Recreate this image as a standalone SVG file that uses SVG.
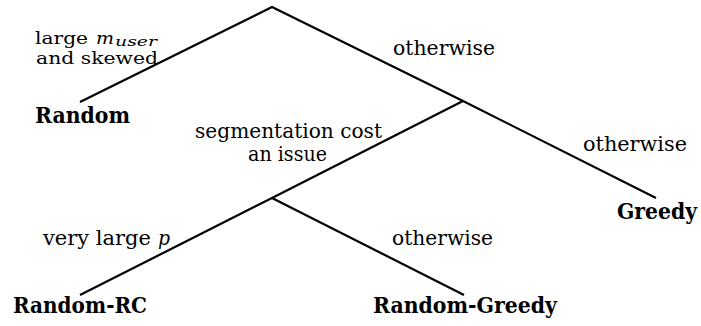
<svg xmlns="http://www.w3.org/2000/svg" width="701" height="326" viewBox="0 0 701 326">
  <style>
    .edge { stroke: #000; stroke-width: 2.2; fill: none; stroke-linecap: butt; stroke-linejoin: miter; }
    .lbl { font-size: 19.5px; fill: #000; }
    .lbl-tight { font-size: 17.5px; fill: #000; }
    .leaf { font-size: 21.5px; font-weight: bold; fill: #000; }
    .math { font-style: italic; }
  </style>
  <rect width="701" height="326" fill="#fff"/>

  <!-- decision tree branches -->
  <g id="connectors">
    <polyline class="edge" points="80,102 272,7 463,101 656,198"/>
    <polyline class="edge" points="463,101 272,198 80,295"/>
    <polyline class="edge" points="272,198 464,295"/>
  </g>

  <g font-family="'DejaVu Serif', 'Noto Serif', 'Liberation Serif', serif">
    <!-- branch conditions -->
    <g id="cond-root-left">
      <text class="lbl-tight"><tspan x="35" y="43.5" textLength="53" lengthAdjust="spacingAndGlyphs">large</tspan><tspan class="math" x="96" y="43.5" textLength="18" lengthAdjust="spacingAndGlyphs">m</tspan><tspan class="math" x="115" y="46" font-size="12.5" textLength="42" lengthAdjust="spacingAndGlyphs">user</tspan></text>
      <text class="lbl-tight" x="36" y="64" textLength="122" lengthAdjust="spacingAndGlyphs">and skewed</text>
    </g>
    <g id="cond-root-right">
      <text class="lbl" x="393" y="55" textLength="102" lengthAdjust="spacingAndGlyphs">otherwise</text>
    </g>
    <g id="cond-mid-left">
      <text class="lbl"><tspan x="195" y="138" textLength="187" lengthAdjust="spacingAndGlyphs">segmentation cost</tspan><tspan x="248" y="161" textLength="79" lengthAdjust="spacingAndGlyphs">an issue</tspan></text>
    </g>
    <g id="cond-mid-right">
      <text class="lbl" x="583" y="151" textLength="104" lengthAdjust="spacingAndGlyphs">otherwise</text>
    </g>
    <g id="cond-low-left">
      <text class="lbl" y="245"><tspan x="43" textLength="108" lengthAdjust="spacingAndGlyphs">very large</tspan><tspan class="math" x="158" textLength="12" lengthAdjust="spacingAndGlyphs">p</tspan></text>
    </g>
    <g id="cond-low-right">
      <text class="lbl" x="392" y="245" textLength="101" lengthAdjust="spacingAndGlyphs">otherwise</text>
    </g>

    <!-- leaves -->
    <g id="leaf-random">
      <text class="leaf" x="35" y="123" textLength="95" lengthAdjust="spacingAndGlyphs">Random</text>
    </g>
    <g id="leaf-greedy">
      <text class="leaf" x="617" y="219" textLength="80" lengthAdjust="spacingAndGlyphs">Greedy</text>
    </g>
    <g id="leaf-random-rc">
      <text class="leaf" x="13" y="313" textLength="134" lengthAdjust="spacingAndGlyphs">Random-RC</text>
    </g>
    <g id="leaf-random-greedy">
      <text class="leaf" x="373" y="313" textLength="184" lengthAdjust="spacingAndGlyphs">Random-Greedy</text>
    </g>
  </g>
</svg>
